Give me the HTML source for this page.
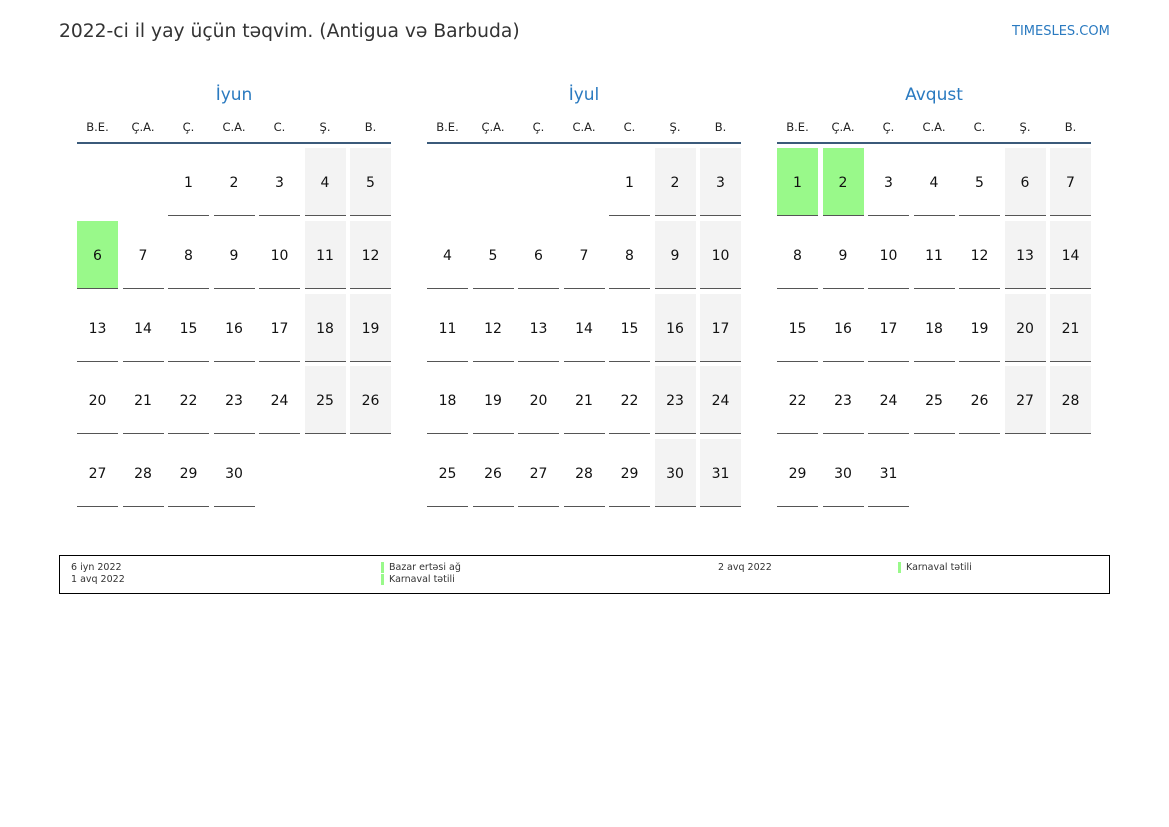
<!DOCTYPE html>
<html><head><meta charset="utf-8"><style>
body{margin:0;width:1169px;height:827px;background:#fff;font-family:"DejaVu Sans","Liberation Sans",sans-serif;position:relative;overflow:hidden}
.a{position:absolute;white-space:nowrap}
.t{font-size:18.7px;color:#333;left:59px;top:21px}
.lg{font-size:13px;color:#2a7ac0;left:1012px;top:24px}
.m{font-size:17px;color:#2a7ac0;width:314px;text-align:center;top:85px}
.dn{font-size:11.5px;color:#222;width:41px;text-align:center;top:120px}
.hl{height:2px;background:#3b5a7a;width:314px;top:142px}
.c{width:41px;height:67px;border-bottom:1.5px solid #555;text-align:center;line-height:71px;font-size:14px;color:#111}
.w{background:#f3f3f3}.g{background:#99f98a}
.s{font-size:9.5px;color:#333}
.b{width:3px;height:11px;background:#99f98a}
</style></head><body>
<div class="a t">2022-ci il yay üçün təqvim. (Antigua və Barbuda)</div>
<div class="a lg">TIMESLES.COM</div>
<div id="r"></div>
<div class="a" style="left:59px;top:555px;width:1049px;height:37px;border:1px solid #000"></div>
<div class="a s" style="left:71px;top:562px">6 iyn 2022</div>
<div class="a s" style="left:71px;top:574px">1 avq 2022</div>
<div class="a b" style="left:381px;top:562px"></div>
<div class="a s" style="left:389px;top:562px">Bazar ertəsi ağ</div>
<div class="a b" style="left:381px;top:574px"></div>
<div class="a s" style="left:389px;top:574px">Karnaval tətili</div>
<div class="a s" style="left:718px;top:562px">2 avq 2022</div>
<div class="a b" style="left:898px;top:562px"></div>
<div class="a s" style="left:906px;top:562px">Karnaval tətili</div>
<script>
var M=[["İyun",77,2,30,[6]],["İyul",427,4,31,[]],["Avqust",777,0,31,[1,2]]];
var D=["B.E.","Ç.A.","Ç.","C.A.","C.","Ş.","B."];var h="";
M.forEach(function(m){
h+='<div class="a m" style="left:'+m[1]+'px">'+m[0]+'</div><div class="a hl" style="left:'+m[1]+'px"></div>';
for(var i=0;i<7;i++)h+='<div class="a dn" style="left:'+(m[1]+i*45.5)+'px">'+D[i]+'</div>';
for(var d=1;d<=m[3];d++){var p=m[2]+d-1,c=p%7,r=Math.floor(p/7);
var cl="a c"+(m[4].indexOf(d)>=0?" g":(c>=5?" w":""));
h+='<div class="'+cl+'" style="left:'+(m[1]+c*45.5)+'px;top:'+(148+r*72.8)+'px">'+d+'</div>';}
});
document.getElementById("r").innerHTML=h;
</script>
</body></html>
